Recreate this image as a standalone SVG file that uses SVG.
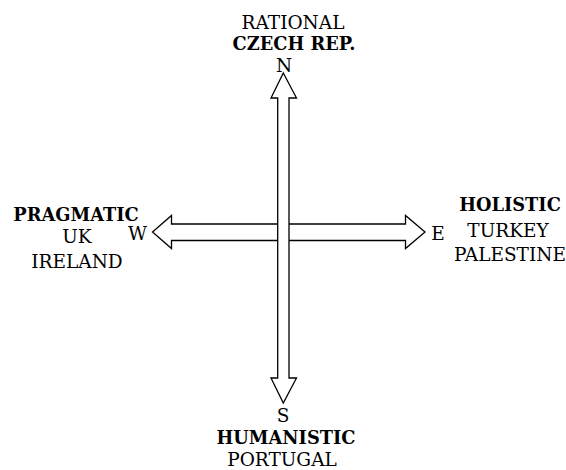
<svg xmlns="http://www.w3.org/2000/svg" width="566" height="470" viewBox="0 0 566 470">
<style>
text{font-family:"DejaVu Serif",serif;font-size:18.5px;fill:#000;text-anchor:middle}
.b{font-weight:bold;font-size:17.8px}
.arr{fill:#fff;stroke:#000;stroke-width:1.3;stroke-linejoin:miter}
</style>
<rect width="566" height="470" fill="#fff"/>
<g id="connectors">
<polygon class="arr" points="152.5,232 171.5,215.5 171.5,224 405.5,224 405.5,215.5 425,232 405.5,248.5 405.5,240.5 171.5,240.5 171.5,248.5"/>
<polygon class="arr" points="283.3,73 296.5,98 289,98 289,378 296.5,378 283.3,403 271,378 277.7,378 277.7,98 271,98"/>
</g>
<g id="north"><text x="293" y="29">RATIONAL</text><text class="b" x="294" y="50">CZECH REP.</text><text x="284" y="72">N</text></g>
<g id="south"><text x="283" y="422">S</text><text class="b" x="286" y="444">HUMANISTIC</text><text x="282" y="466">PORTUGAL</text></g>
<g id="west"><text class="b" x="76" y="221">PRAGMATIC</text><text x="77" y="243">UK</text><text x="77" y="268">IRELAND</text><text x="137.5" y="240">W</text></g>
<g id="east"><text class="b" x="510" y="211">HOLISTIC</text><text x="508" y="237">TURKEY</text><text x="510" y="261">PALESTINE</text><text x="438" y="240">E</text></g>
</svg>
